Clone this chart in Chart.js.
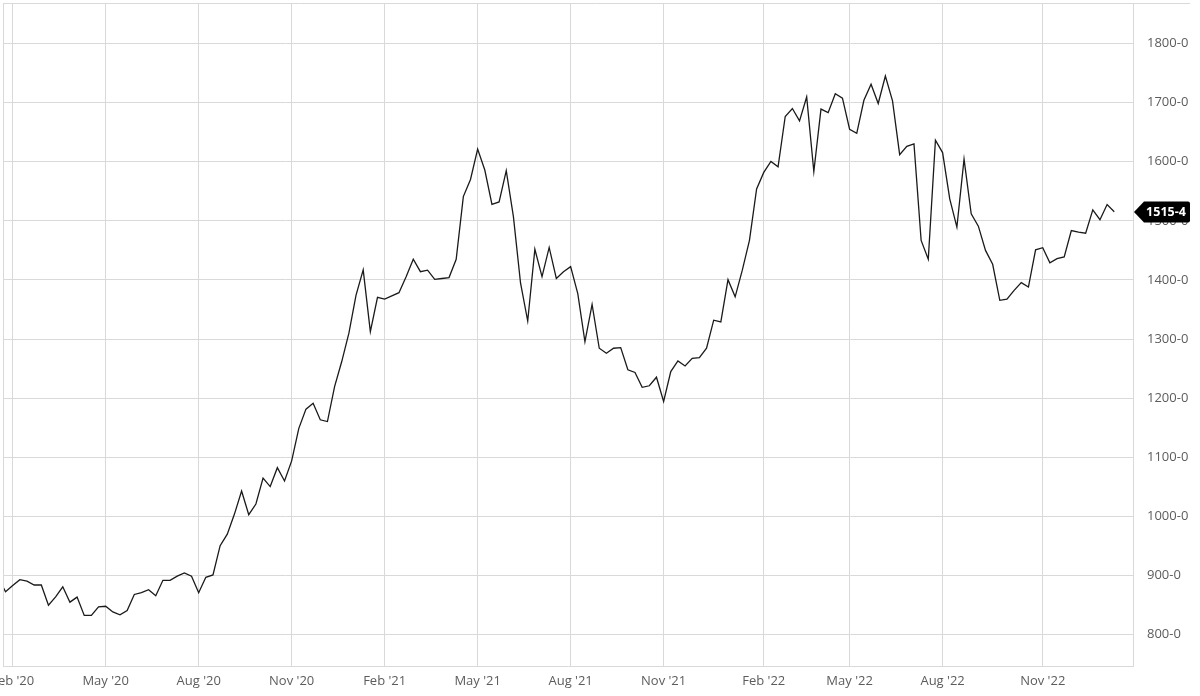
<!DOCTYPE html>
<html><head><meta charset="utf-8">
<script src="https://cdn.jsdelivr.net/npm/chart.js@4.4.1/dist/chart.umd.min.js"></script>
<style>html,body{margin:0;padding:0;background:#fff;overflow:hidden}#wrap{width:1200px;height:696px;position:relative}</style>
</head><body><div id="wrap"><canvas id="c" width="1200" height="696"></canvas></div>
<script>
// Weekly settlement prices (cents/bushel), one value per week
const prices = [
  896, 872.5, 883, 893, 890.5, 884, 884, 850, 864, 881,
  855, 863.5, 832.5, 832.5, 847, 848, 838.5, 833.5, 841, 868,
  871, 876, 866, 892, 892, 899, 904.5, 899, 871, 897,
  901, 950.5, 970, 1004, 1043, 1003, 1021, 1065, 1050.5, 1082.5,
  1060, 1094, 1149, 1181.5, 1191.5, 1163.5, 1160.5, 1219.5, 1262, 1310,
  1374.5, 1417, 1312.5, 1370.5, 1367.5, 1373, 1378.5, 1405.5, 1435, 1414,
  1416.5, 1401, 1402.5, 1404, 1435, 1541, 1570, 1621.5, 1586, 1528,
  1532, 1585, 1507, 1394.5, 1330.5, 1452, 1405.5, 1455, 1402.5, 1414,
  1422.5, 1377, 1295.5, 1358.5, 1284.5, 1276, 1284.5, 1285.5, 1248, 1243.5,
  1218.5, 1221, 1235.5, 1194.5, 1245, 1263, 1254.5, 1267.5, 1268.5, 1284.5,
  1332, 1329, 1400.5, 1371.5, 1416.5, 1467, 1554, 1582, 1600.5, 1591.5,
  1676.5, 1690, 1669, 1709.5, 1583.5, 1689, 1683, 1715, 1707.5, 1655,
  1648, 1704, 1731, 1698.5, 1745, 1703, 1612, 1626, 1630, 1467,
  1435, 1636.5, 1615.5, 1537, 1489.5, 1604.5, 1512, 1491, 1450, 1426.5,
  1365.5, 1367.5, 1382.5, 1395.5, 1388, 1451, 1454.5, 1429, 1436, 1439,
  1483.5, 1481, 1479, 1518.5, 1502, 1527.5, 1515.5
];
// Week positions of the x-axis labels
const xTickIndex = [2, 15, 28, 41, 54, 67, 80, 93, 107, 119, 132, 146];
const xTickLabels = ["Feb '20", "May '20", "Aug '20", "Nov '20", "Feb '21", "May '21", "Aug '21", "Nov '21", "Feb '22", "May '22", "Aug '22", "Nov '22"];
const yTickValues = [800, 900, 1000, 1100, 1200, 1300, 1400, 1500, 1600, 1700, 1800];
const lastLabel = "1515-4";

const points = prices.map((v, i) => ({ x: i, y: v }));
const GRID = '#d9d9d9';
const TXT = '#5c5c5c';
const FONT = { family: "'Open Sans', 'Noto Sans', sans-serif", size: 13 };

const decor = {
  id: 'decor',
  afterDraw(chart) {
    const ctx = chart.ctx, a = chart.chartArea;
    ctx.save();
    ctx.strokeStyle = GRID; ctx.lineWidth = 1;
    ctx.beginPath();
    ctx.moveTo(a.left + 0.5, a.top); ctx.lineTo(a.left + 0.5, a.bottom);
    ctx.moveTo(a.left, a.top + 0.5); ctx.lineTo(1190, a.top + 0.5);
    ctx.stroke();
    // last value tag
    const y = Math.round(chart.scales.y.getPixelForValue(prices[prices.length - 1]));
    const tip = a.right + 1, bx = tip + 10, ex = 1190, h = 10.5, r = 2;
    ctx.fillStyle = '#000';
    ctx.beginPath();
    ctx.moveTo(tip, y);
    ctx.lineTo(bx, y - h);
    ctx.lineTo(ex - r, y - h);
    ctx.quadraticCurveTo(ex, y - h, ex, y - h + r);
    ctx.lineTo(ex, y + h - r);
    ctx.quadraticCurveTo(ex, y + h, ex - r, y + h);
    ctx.lineTo(bx, y + h);
    ctx.closePath();
    ctx.fill();
    ctx.fillStyle = '#fff';
    ctx.font = "bold 12.5px 'Open Sans', 'Noto Sans', sans-serif";
    ctx.textAlign = 'center'; ctx.textBaseline = 'middle';
    ctx.fillText(lastLabel, (bx + ex) / 2 - 1, y + 0.5);
    ctx.restore();
  }
};

new Chart(document.getElementById('c'), {
  type: 'line',
  data: { datasets: [{ data: points, borderColor: '#1a1a1a', borderWidth: 1.3, pointRadius: 0, tension: 0, fill: false }] },
  options: {
    responsive: false, animation: false, devicePixelRatio: 1,
    layout: { padding: { left: 3, top: 3, right: 0, bottom: 0 } },
    plugins: { legend: { display: false }, tooltip: { enabled: false } },
    scales: {
      x: {
        type: 'linear', min: 0.644, max: 158.62,
        afterBuildTicks: s => { s.ticks = xTickIndex.map(v => ({ value: v })); },
        afterFit: s => { s.height = 30; s.paddingLeft = 0; s.paddingRight = 0; },
        ticks: { autoSkip: false, maxRotation: 0, padding: 7, color: TXT, font: FONT,
          callback: v => { const k = xTickIndex.indexOf(v); return k >= 0 ? xTickLabels[k] : ''; } },
        grid: { color: GRID, drawTicks: false },
        border: { color: GRID }
      },
      y: {
        position: 'right', min: 747, max: 1868.5,
        afterBuildTicks: s => { s.ticks = yTickValues.map(v => ({ value: v })); },
        afterFit: s => { s.width = 67; s.paddingTop = 0; s.paddingBottom = 0; },
        ticks: { padding: 14, color: TXT, font: FONT, callback: v => v + '-0' },
        grid: { color: GRID, drawTicks: false },
        border: { color: GRID }
      }
    }
  },
  plugins: [decor]
});
</script>
</body></html>
